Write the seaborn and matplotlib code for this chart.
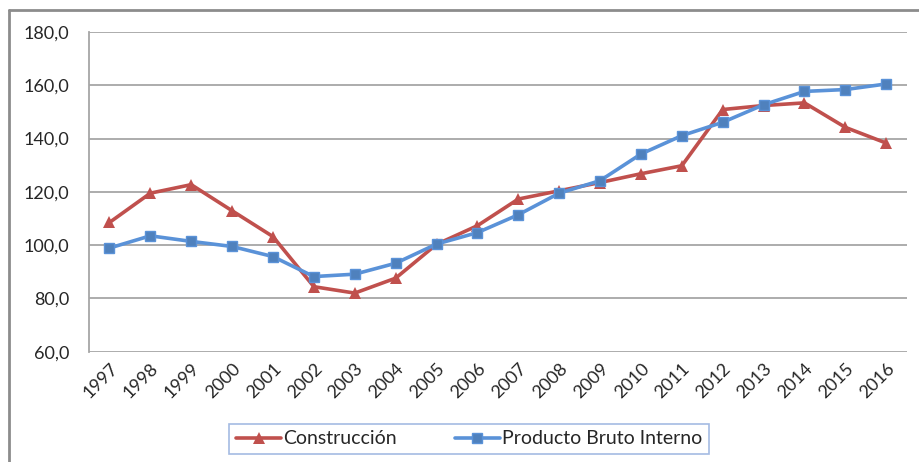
import matplotlib
matplotlib.use("Agg")
import matplotlib.pyplot as plt
from matplotlib.lines import Line2D
import seaborn as sns
import pandas as pd

# index values
years = list(range(1997, 2017))
construccion = [108.5, 119.5, 122.7, 112.9, 103.2, 84.4, 82.0, 87.6, 100.3, 107.3,
                117.3, 120.4, 123.5, 126.8, 129.8, 150.9, 152.4, 153.4, 144.2, 138.3]
pbi = [98.9, 103.5, 101.4, 99.5, 95.7, 88.2, 89.1, 93.2, 100.4, 104.7,
       111.4, 119.5, 124.2, 134.2, 141.1, 146.1, 152.7, 157.7, 158.4, 160.5]
series_names = ["Construcción", "Producto Bruto Interno"]
y_ticks = [60, 80, 100, 120, 140, 160, 180]

sns.set_style("white")
plt.rcParams['font.family'] = ['Lato', 'DejaVu Sans']

df = pd.DataFrame({
    "year": years * 2,
    "value": construccion + pbi,
    "serie": [series_names[0]] * len(years) + [series_names[1]] * len(years),
})

fig = plt.figure(figsize=(9.2, 4.62), dpi=100)
ax = fig.add_axes([89 / 920, 1 - 351.7 / 462, (906.7 - 89) / 920, (351.7 - 32) / 462])

red = "#C0504D"
blue_line = "#5A92D8"
blue_mark = "#4F81BD"

sns.lineplot(data=df[df.serie == series_names[0]], x="year", y="value", ax=ax,
             color=red, lw=2.6, marker="^", markersize=8.5, markeredgewidth=0,
             markerfacecolor=red, legend=False, zorder=3)
sns.lineplot(data=df[df.serie == series_names[1]], x="year", y="value", ax=ax,
             color=blue_line, lw=2.6, marker="s", markersize=7.5, markeredgewidth=1,
             markeredgecolor=blue_line, markerfacecolor=blue_mark, legend=False, zorder=4)

ax.set_xlim(years[0] - 0.5, years[-1] + 0.5)
ax.set_ylim(60, 180)
ax.set_yticks(y_ticks)
ax.set_yticklabels([f"{v:.1f}".replace(".", ",") for v in y_ticks], fontsize=13)
ax.set_xticks(years)
ax.set_xticklabels([str(y) for y in years], rotation=45, ha="right",
                   rotation_mode="anchor", fontsize=13)
ax.tick_params(axis="both", length=0, pad=6)
ax.tick_params(axis="y", pad=14)
ax.set_xlabel("")
ax.set_ylabel("")
ax.grid(axis="y", color="#A6A6A6", lw=1.3)
ax.set_axisbelow(True)
for side in ["top", "right", "bottom"]:
    ax.spines[side].set_visible(False)
ax.spines["left"].set_color("#A6A6A6")
ax.spines["left"].set_linewidth(1.3)

# outer chart frame
fig.add_artist(Line2D([9 / 920, 1], [1 - 10 / 462] * 2, color="#8C8C8C", lw=2,
                      transform=fig.transFigure))
fig.add_artist(Line2D([9 / 920] * 2, [0, 1 - 10 / 462], color="#8C8C8C", lw=2,
                      transform=fig.transFigure))

handles = [
    Line2D([], [], color=red, lw=2.6, marker="^", markersize=8.5, markeredgewidth=0),
    Line2D([], [], color=blue_line, lw=2.6, marker="s", markersize=7.5,
           markerfacecolor=blue_mark, markeredgecolor=blue_line),
]
leg = fig.legend(handles, series_names, loc="center", ncol=2,
                 bbox_to_anchor=(469 / 920, 1 - 439 / 462), fontsize=14,
                 frameon=True, fancybox=False, handlelength=2.3, handletextpad=0.1,
                 columnspacing=3.0, borderpad=0.35, borderaxespad=0)
leg.get_frame().set_edgecolor("#8EAADB")
leg.get_frame().set_linewidth(1.2)

fig.savefig("out.png", dpi=100)
